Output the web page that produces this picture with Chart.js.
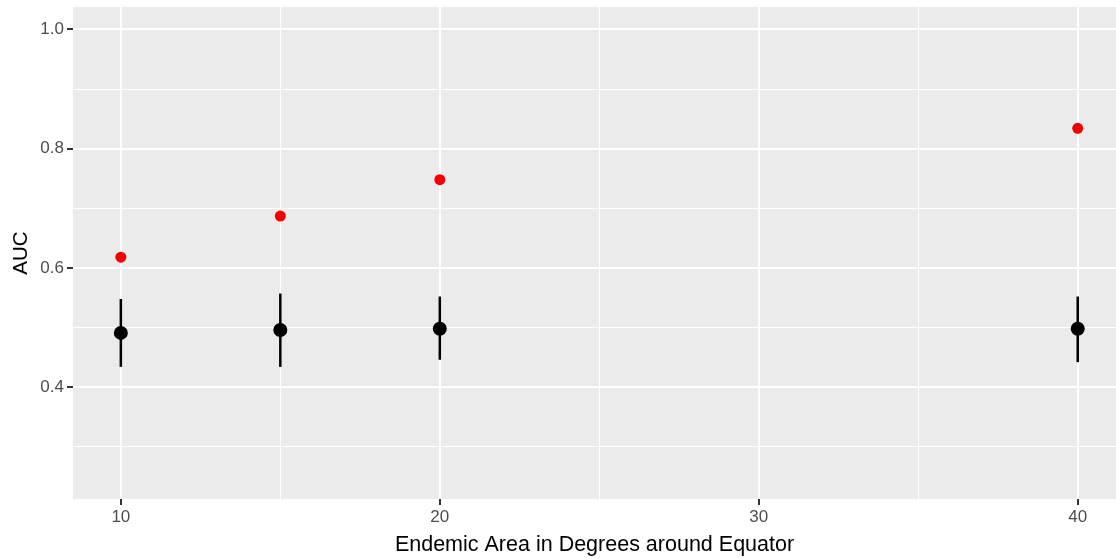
<!DOCTYPE html>
<html>
<head>
<meta charset="utf-8">
<script src="https://cdn.jsdelivr.net/npm/chart.js@4"></script>
<style>
  html, body { margin: 0; padding: 0; background: #fff; }
  #wrap { width: 1116px; height: 558px; }
</style>
</head>
<body>
<div id="wrap"><canvas id="chart" width="1116" height="558"></canvas></div>
<script>
const degrees = [10, 15, 20, 40];
const observedAuc = [0.618, 0.687, 0.748, 0.834];
const nullAuc = [0.491, 0.496, 0.498, 0.498];
const nullLow = [0.434, 0.434, 0.446, 0.442];
const nullHigh = [0.548, 0.557, 0.552, 0.552];
const xTicks = [10, 15, 20, 25, 30, 35, 40];
const yTicks = [0.3, 0.4, 0.5, 0.6, 0.7, 0.8, 0.9, 1.0];
const xLabelled = [10, 20, 30, 40];
const yLabelled = [0.4, 0.6, 0.8, 1.0];

const isMajor = (v, list) => list.some(t => Math.abs(t - v) < 1e-6);
const font = "Liberation Sans, Arial, sans-serif";

/* grey panel behind the grid */
const panelBg = {
  id: "panelBg",
  beforeDraw(chart) {
    const { ctx, chartArea: a } = chart;
    ctx.save();
    ctx.fillStyle = "#EBEBEB";
    ctx.fillRect(a.left, a.top, a.right - a.left, a.bottom - a.top);
    ctx.restore();
  }
};

/* vertical error bars for the null distribution */
const errorBars = {
  id: "errorBars",
  beforeDatasetsDraw(chart) {
    const { ctx, scales } = chart;
    ctx.save();
    ctx.strokeStyle = "#000";
    ctx.lineWidth = 2.5;
    degrees.forEach((d, i) => {
      const x = scales.x.getPixelForValue(d);
      ctx.beginPath();
      ctx.moveTo(x, scales.y.getPixelForValue(nullLow[i]));
      ctx.lineTo(x, scales.y.getPixelForValue(nullHigh[i]));
      ctx.stroke();
    });
    ctx.restore();
  }
};

new Chart(document.getElementById("chart"), {
  type: "scatter",
  data: {
    datasets: [
      {
        label: "null",
        data: degrees.map((d, i) => ({ x: d, y: nullAuc[i] })),
        backgroundColor: "#000",
        borderWidth: 0,
        pointRadius: 7
      },
      {
        label: "observed",
        data: degrees.map((d, i) => ({ x: d, y: observedAuc[i] })),
        backgroundColor: "#F20000",
        borderWidth: 0,
        pointRadius: 5.5
      }
    ]
  },
  options: {
    responsive: false,
    animation: false,
    layout: { autoPadding: false, padding: { top: 7, right: 0, left: 0, bottom: 0 } },
    plugins: { legend: { display: false }, tooltip: { enabled: false } },
    scales: {
      x: {
        type: "linear",
        min: 8.5,
        max: 41.2,
        afterBuildTicks(scale) { scale.ticks = xTicks.map(v => ({ value: v })); },
        afterFit(scale) {
          scale.height = 59;
          scale.paddingLeft = 0;
          scale.paddingRight = 0;
        },
        border: { display: false },
        grid: {
          color: "#fff",
          lineWidth: c => isMajor(c.tick.value, xLabelled) ? 2 : 1,
          tickColor: c => isMajor(c.tick.value, xLabelled) ? "#333" : "rgba(0,0,0,0)",
          tickLength: 6,
          tickWidth: 2
        },
        ticks: {
          autoSkip: false,
          maxRotation: 0,
          padding: 2,
          color: "#4D4D4D",
          font: { family: font, size: 17 },
          callback: v => isMajor(v, xLabelled) ? String(v) : ""
        },
        title: {
          display: true,
          text: "Endemic Area in Degrees around Equator",
          color: "#000",
          padding: { top: 0, bottom: 0 },
          font: { family: font, size: 21.5 }
        }
      },
      y: {
        type: "linear",
        min: 0.2125,
        max: 1.0375,
        afterBuildTicks(scale) { scale.ticks = yTicks.map(v => ({ value: v })); },
        afterFit(scale) {
          scale.width = 73;
          scale.paddingTop = 0;
          scale.paddingBottom = 0;
        },
        border: { display: false },
        grid: {
          color: "#fff",
          lineWidth: c => isMajor(c.tick.value, yLabelled) ? 2 : 1,
          tickColor: c => isMajor(c.tick.value, yLabelled) ? "#333" : "rgba(0,0,0,0)",
          tickLength: 6,
          tickWidth: 2
        },
        ticks: {
          autoSkip: false,
          padding: 3,
          color: "#4D4D4D",
          font: { family: font, size: 17 },
          callback: v => isMajor(v, yLabelled) ? v.toFixed(1) : ""
        },
        title: {
          display: true,
          text: "AUC",
          color: "#000",
          padding: { top: 9, bottom: 0 },
          font: { family: font, size: 20.5 }
        }
      }
    }
  },
  plugins: [panelBg, errorBars]
});
</script>
</body>
</html>
